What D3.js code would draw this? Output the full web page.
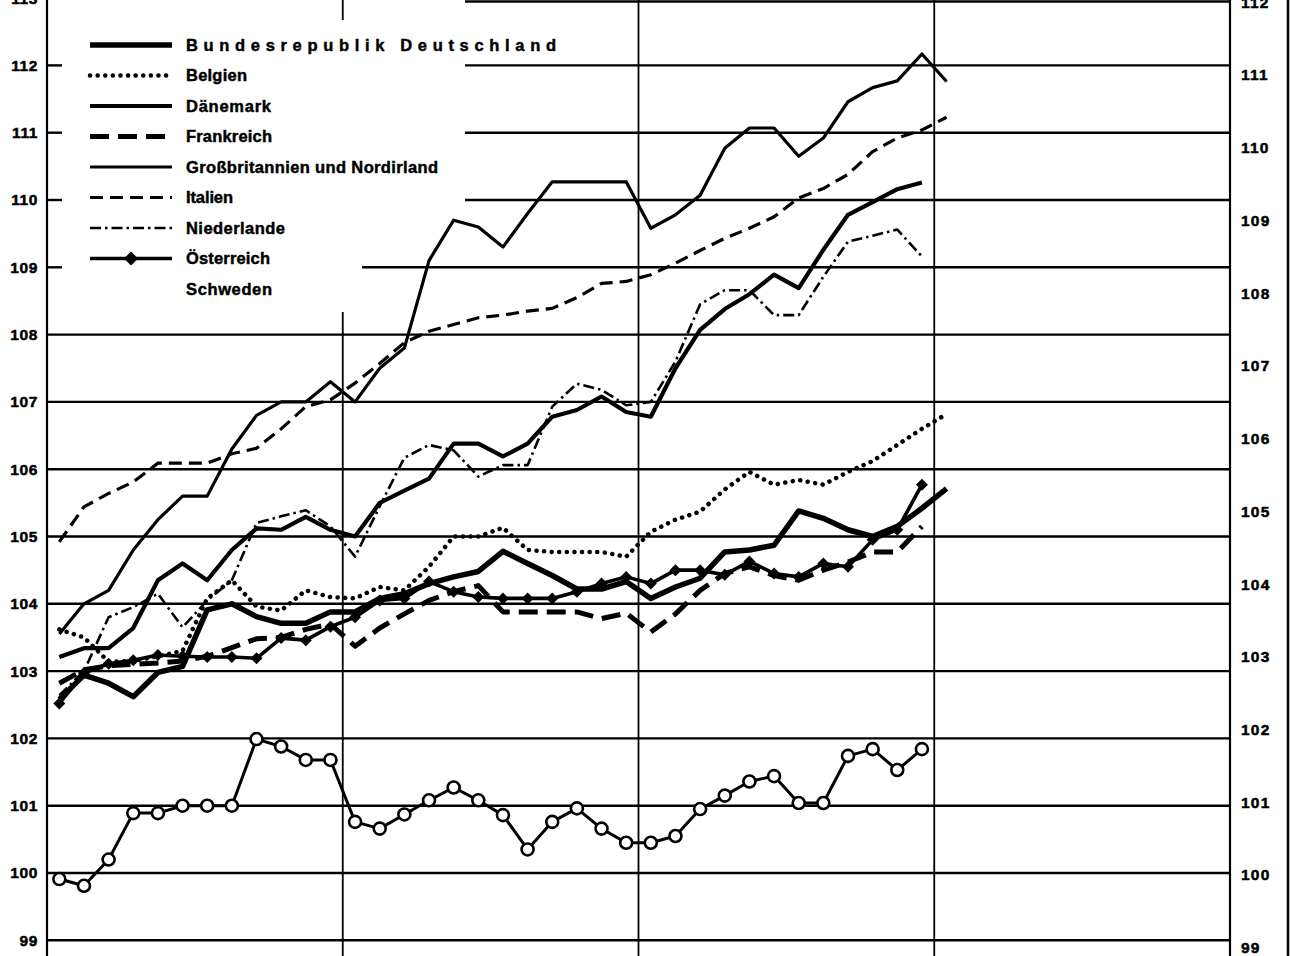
<!DOCTYPE html>
<html><head><meta charset="utf-8">
<script src="https://cdn.jsdelivr.net/npm/d3@7"></script>
<style>
html,body{margin:0;padding:0;background:#fff;}
svg{display:block;}
text{font-family:"Liberation Sans",Arial,Helvetica,sans-serif;font-weight:bold;fill:#000;}
</style></head><body>
<svg id="chart" width="1291" height="956"></svg>
<script>
// ---------- data ----------
const leftTicks  = [99,100,101,102,103,104,105,106,107,108,109,110,111,112,113];
const rightTicks = [99,100,101,102,103,104,105,106,107,108,109,110,111,112];
const periodBreaks = [12, 24, 36];      // month index of the vertical separators
const monthsTotal = 48;

const names = ["Bundesrepublik Deutschland","Belgien","Dänemark","Frankreich",
  "Großbritannien und Nordirland","Italien","Niederlande","Österreich","Schweden"];

const brd = [102.58,102.94,102.82,102.62,102.98,103.07,103.91,104.0,103.81,103.71,103.71,103.88,
  103.88,104.08,104.15,104.3,104.4,104.48,104.78,104.6,104.42,104.22,104.22,104.33,
  104.08,104.25,104.38,104.77,104.8,104.87,105.38,105.27,105.1,105.0,105.15,105.42,105.71];
const belgien = [103.62,103.5,103.14,103.15,103.22,103.3,104.08,104.35,103.96,103.9,104.2,104.1,
  104.08,104.25,104.2,104.55,105.0,105.0,105.13,104.8,104.77,104.77,104.77,104.7,
  105.07,105.25,105.37,105.7,105.96,105.77,105.84,105.77,105.96,106.12,106.36,106.6,106.82];
const daenemark = [103.21,103.34,103.34,103.64,104.35,104.6,104.35,104.8,105.12,105.1,105.29,105.1,
  105.0,105.5,105.68,105.86,106.38,106.38,106.19,106.38,106.78,106.88,107.08,106.85,
  106.78,107.5,108.07,108.38,108.6,108.89,108.69,109.26,109.78,109.97,110.16,110.26];
const frankreich = [102.82,103.02,103.08,103.1,103.12,103.15,103.22,103.35,103.48,103.5,103.62,103.7,
  103.37,103.64,103.85,104.05,104.18,104.27,103.88,103.88,103.88,103.88,103.78,103.86,
  103.58,103.85,104.2,104.45,104.55,104.42,104.35,104.5,104.62,104.77,104.77,105.15];
const grossbritannien = [103.55,104.0,104.2,104.8,105.25,105.6,105.6,106.3,106.8,107.0,107.0,107.3,
  107.0,107.5,107.8,109.1,109.7,109.6,109.3,109.8,110.27,110.27,110.27,110.27,
  109.58,109.78,110.07,110.77,111.07,111.07,110.65,110.92,111.46,111.67,111.77,112.17,111.76];
const italien = [104.92,105.44,105.64,105.81,106.09,106.09,106.09,106.23,106.31,106.6,106.93,107.03,
  107.28,107.57,107.88,108.05,108.15,108.25,108.29,108.35,108.39,108.55,108.76,108.79,
  108.89,109.06,109.25,109.43,109.58,109.75,110.03,110.17,110.38,110.72,110.92,111.04,111.23];
const niederlande = [102.64,103.0,103.8,103.95,104.15,103.65,104.05,104.35,105.2,105.3,105.39,105.15,
  104.7,105.45,106.17,106.36,106.28,105.89,106.06,106.06,106.93,107.27,107.18,106.95,
  107.0,107.6,108.45,108.66,108.66,108.29,108.29,108.86,109.38,109.47,109.56,109.16];
const oesterreich = [102.52,102.97,103.11,103.16,103.24,103.22,103.21,103.21,103.19,103.49,103.46,103.66,
  103.8,104.05,104.08,104.33,104.18,104.1,104.08,104.08,104.08,104.18,104.3,104.4,
  104.3,104.5,104.5,104.43,104.63,104.45,104.4,104.6,104.55,104.95,105.1,105.77];
const schweden = [99.91,99.81,100.2,100.89,100.89,101.0,101.0,101.0,101.99,101.88,101.68,101.68,
  100.76,100.66,100.87,101.08,101.27,101.08,100.86,100.35,100.76,100.96,100.66,100.45,
  100.45,100.55,100.95,101.15,101.36,101.44,101.04,101.04,101.74,101.84,101.53,101.84];

const seriesValues = [brd, belgien, daenemark, frankreich, grossbritannien, italien, niederlande, oesterreich, schweden];

// ---------- styles (not data) ----------
const styles = [
  {w:5.5, dash:null,        cap:"butt",  legW:370},
  {w:4.5, dash:"0.1,7.5",   cap:"round", legW:61},
  {w:4.2, dash:null,        cap:"butt",  legW:85},
  {w:5,   dash:"19,9",      cap:"butt",  legW:86},
  {w:3.2, dash:null,        cap:"butt",  legW:252},
  {w:3.2, dash:"13,7",      cap:"butt",  legW:47},
  {w:2.6, dash:"11,4,2.5,4",cap:"butt",  legW:99},
  {w:3.6, dash:null,        cap:"butt",  legW:84, marker:"diamond"},
  {w:3,   dash:null,        cap:"butt",  legW:86, marker:"circle", noLegendLine:true}
];

// ---------- scales ----------
const svg = d3.select("#chart");
const x  = d3.scaleLinear().domain([0, monthsTotal]).range([47, 1230]);
const yL = d3.scaleLinear().domain([100, 112]).range([873, 65.4]);
const yR = d3.scaleLinear().domain([100, 111]).range([875, 75]);
const xp = i => x(i + 0.5);

// ---------- grid ----------
const grid = svg.append("g").attr("stroke","#000").attr("fill","none");
leftTicks.forEach(v => {
  let x0 = x(0);
  if (v >= 110) x0 = 465; else if (v === 109) x0 = 362;
  const yy = Math.max(yL(v), 1.5);
  grid.append("line").attr("x1", x0).attr("x2", x(monthsTotal))
      .attr("y1", yy).attr("y2", yy).attr("stroke-width", 2.4);
  if (v >= 109 && v <= 112) {
    grid.append("line").attr("x1", x(0)).attr("x2", x(0)+15)
        .attr("y1", yL(v)).attr("y2", yL(v)).attr("stroke-width", 2.4);
  }
});
grid.append("line").attr("x1", x(0)).attr("x2", x(0)).attr("y1", 0).attr("y2", 956).attr("stroke-width", 2.2);
grid.append("line").attr("x1", x(monthsTotal)).attr("x2", x(monthsTotal)).attr("y1", 0).attr("y2", 956).attr("stroke-width", 2.2);
grid.append("line").attr("x1", 1288).attr("x2", 1288).attr("y1", 0).attr("y2", 956).attr("stroke-width", 2.5);
periodBreaks.forEach((m, k) => {
  const xx = x(m);
  if (k === 0) {
    grid.append("line").attr("x1", xx).attr("x2", xx).attr("y1", 0).attr("y2", 20).attr("stroke-width", 1.8);
    grid.append("line").attr("x1", xx).attr("x2", xx).attr("y1", 312).attr("y2", 956).attr("stroke-width", 1.8);
  } else {
    grid.append("line").attr("x1", xx).attr("x2", xx).attr("y1", 0).attr("y2", 956).attr("stroke-width", 1.8);
  }
});

// ---------- axes labels ----------
function styleAxisText(sel) {
  sel.selectAll("text").attr("font-size", 15.5).attr("font-family", "Liberation Sans, Arial, sans-serif")
    .attr("font-weight","bold").attr("stroke","#000").attr("stroke-width",0.5).attr("letter-spacing", 0.6);
}
const axL = svg.append("g").attr("transform", `translate(${x(0)},0)`)
  .call(d3.axisLeft(yL).tickValues(leftTicks).tickSize(0).tickPadding(9).tickFormat(d3.format("d")));
axL.select(".domain").remove();
styleAxisText(axL);

const axR = svg.append("g").attr("transform", `translate(${x(monthsTotal)},0)`)
  .call(d3.axisRight(yR).tickValues(rightTicks).tickSize(0).tickPadding(11).tickFormat(d3.format("d")));
axR.select(".domain").remove();
styleAxisText(axR);
axR.selectAll("text").attr("letter-spacing", 1.2);

// ---------- lines ----------
const line = d3.line().x((d,i) => xp(i)).y(d => yL(d)).curve(d3.curveLinear);
const diamond = (s) => `M0,${-s}L${s},0L0,${s}L${-s},0Z`;

const order = [8, 4, 5, 2, 6, 1, 3, 7, 0];
order.forEach(k => {
  const st = styles[k], vals = seriesValues[k];
  svg.append("path").datum(vals).attr("d", line)
    .attr("fill","none").attr("stroke","#000").attr("stroke-width", st.w)
    .attr("stroke-dasharray", st.dash).attr("stroke-linecap", st.cap)
    .attr("stroke-linejoin","round");
  if (st.marker === "circle") {
    svg.append("g").selectAll("circle").data(vals).join("circle")
      .attr("cx",(d,i)=>xp(i)).attr("cy",d=>yL(d)).attr("r",6)
      .attr("fill","#fff").attr("stroke","#000").attr("stroke-width",2.6);
  }
  if (st.marker === "diamond") {
    svg.append("g").selectAll("path").data(vals).join("path")
      .attr("transform",(d,i)=>`translate(${xp(i)},${yL(d)})`)
      .attr("d", diamond(6)).attr("fill","#000");
  }
});

// ---------- legend ----------
const leg = svg.append("g");
const legY = d3.scaleLinear().domain([0, 8]).range([45, 289]);
names.forEach((n, k) => {
  const st = styles[k], yy = legY(k);
  if (!st.noLegendLine) {
    leg.append("line").attr("x1", 90).attr("x2", 172).attr("y1", yy).attr("y2", yy)
      .attr("stroke","#000").attr("stroke-width", st.w).attr("stroke-dasharray", st.dash)
      .attr("stroke-linecap", st.cap);
    if (st.marker === "diamond") leg.append("path").attr("transform", `translate(131,${yy})`).attr("d", diamond(7)).attr("fill","#000");
  }
  leg.append("text").attr("x", 186).attr("y", yy).attr("dy", "0.36em")
    .attr("font-size", 16.5).attr("stroke","#000").attr("stroke-width",0.45)
    .attr("textLength", st.legW).attr("lengthAdjust", "spacing")
    .text(n);
});
</script></body></html>
